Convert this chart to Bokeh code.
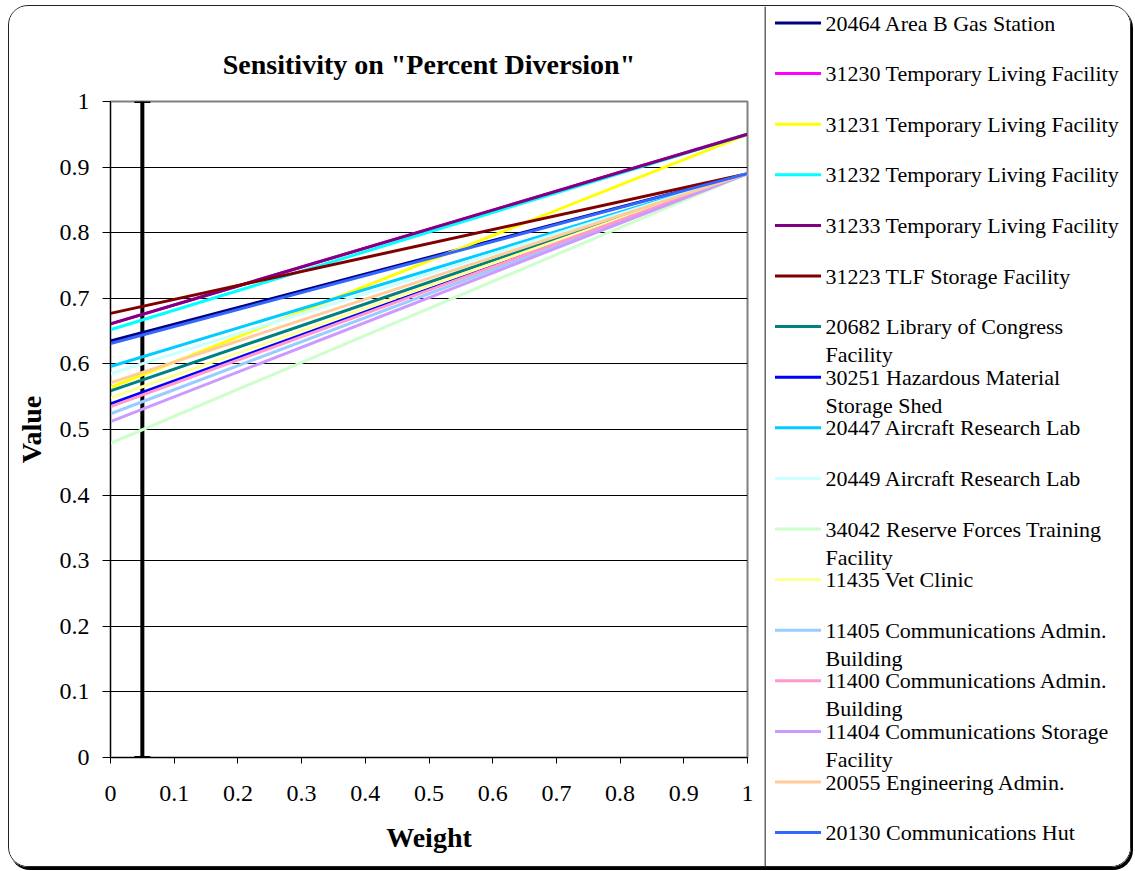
from bokeh.plotting import figure
from bokeh.models import Range1d, FixedTicker, Span, Whisker, TeeHead, ColumnDataSource
from bokeh.layouts import row
from bokeh.embed import file_html
from bokeh.resources import INLINE
from bokeh.core.properties import value

# ---------------- data ----------------
weights = [0, 1]

series_labels = [
    "20464 Area  B Gas  Station",
    "31230 Temporary Living Facility",
    "31231 Temporary Living Facility",
    "31232 Temporary Living Facility",
    "31233 Temporary Living Facility",
    "31223 TLF  Storage Facility",
    "20682 Library of Congress\nFacility",
    "30251 Hazardous Material\nStorage Shed",
    "20447 Aircraft Research Lab",
    "20449 Aircraft Research Lab",
    "34042 Reserve Forces Training\nFacility",
    "11435 Vet Clinic",
    "11405 Communications Admin.\nBuilding",
    "11400 Communications Admin.\nBuilding",
    "11404 Communications Storage\nFacility",
    "20055 Engineering Admin.",
    "20130 Communications Hut",
]
value_at_0 = [0.635, 0.661, 0.564, 0.652, 0.661, 0.677, 0.559, 0.539, 0.596,
              0.585, 0.479, 0.548, 0.524, 0.535, 0.512, 0.571, 0.631]
value_at_1 = [0.89, 0.95, 0.95, 0.95, 0.95, 0.89, 0.89, 0.89, 0.89,
              0.89, 0.89, 0.89, 0.89, 0.89, 0.89, 0.89, 0.89]
series_colors = ["#000080", "#FF00FF", "#FFFF00", "#00FFFF", "#800080", "#800000",
                 "#008080", "#0000FF", "#00CCFF", "#CCFFFF", "#CCFFCC", "#FFFF99",
                 "#99CCFF", "#FF99CC", "#CC99FF", "#FFCC99", "#3366FF"]

marker_weight = [0.05]
marker_low = [0.0]
marker_high = [1.0]

y_ticks = [0, 0.1, 0.2, 0.3, 0.4, 0.5, 0.6, 0.7, 0.8, 0.9, 1]
x_ticks = [0, 0.1, 0.2, 0.3, 0.4, 0.5, 0.6, 0.7, 0.8, 0.9, 1]
tick_labels = ["0", "0.1", "0.2", "0.3", "0.4", "0.5", "0.6", "0.7", "0.8", "0.9", "1"]

FONT = "Liberation Serif"
H = 860

# ---------------- main chart ----------------
p = figure(width=755, height=H, x_range=Range1d(0, 1), y_range=Range1d(0, 1),
           output_backend="svg", toolbar_location=None,
           min_border_left=101, min_border_right=17, min_border_top=95, min_border_bottom=109,
           title='Sensitivity on "Percent Diversion"')
p.frame_align = False
p.title.text_font = FONT
p.title.text_font_size = "28px"
p.title.text_font_style = "bold"
p.title.text_color = "black"
p.title.align = "center"
p.title.standoff = 43

p.outline_line_color = "#808080"
p.outline_line_width = 2
p.xgrid.visible = False
p.ygrid.grid_line_color = "black"
p.ygrid.grid_line_width = 1
p.ygrid.ticker = FixedTicker(ticks=y_ticks)

for ax, ticks in ((p.xaxis[0], x_ticks), (p.yaxis[0], y_ticks)):
    ax.ticker = FixedTicker(ticks=ticks)
    ax.major_label_overrides = {t: s for t, s in zip(ticks, tick_labels)}
    ax.major_label_text_font = FONT
    ax.major_label_text_font_size = "24px"
    ax.major_label_text_color = "black"
    ax.axis_label_text_font = FONT
    ax.axis_label_text_font_size = "28px"
    ax.axis_label_text_font_style = "bold"
    ax.axis_label_text_color = "black"
    ax.axis_line_color = "black"
    ax.major_tick_line_color = "black"
    ax.major_tick_in = 0
    ax.minor_tick_line_color = None

p.xaxis.axis_label = "Weight"
p.yaxis.axis_label = "Value"
p.xaxis.major_tick_out = 6
p.yaxis.major_tick_out = 8
p.xaxis.major_label_standoff = 22
p.yaxis.major_label_standoff = 13
p.xaxis.axis_label_standoff = 18
p.yaxis.axis_label_standoff = 10

for lab, v0, v1, col in zip(series_labels, value_at_0, value_at_1, series_colors):
    p.line(weights, [v0, v1], line_color=col, line_width=3)

src = ColumnDataSource(dict(base=marker_weight, lower=marker_low, upper=marker_high))
wh = Whisker(source=src, base="base", lower="lower", upper="upper", dimension="height",
             line_color="black", line_width=4,
             upper_head=TeeHead(size=16, line_color="black", line_width=3),
             lower_head=TeeHead(size=16, line_color="black", line_width=3))
p.add_layout(wh)

# ---------------- legend panel ----------------
LW = 366
leg = figure(width=LW, height=H, x_range=Range1d(0, LW), y_range=Range1d(H, 0),
             output_backend="svg", toolbar_location=None,
             x_axis_type=None, y_axis_type=None,
             min_border=0, min_border_left=0, min_border_right=0,
             min_border_top=0, min_border_bottom=0)
leg.frame_align = False
leg.outline_line_color = None
leg.xgrid.visible = False
leg.ygrid.visible = False
leg.add_layout(Span(location=0.5, dimension="height", line_color="#666666", line_width=2))

step = 50.6
first = 16.5
xs0, xs1, xt = 10.5, 56.5, 61
txt_x, txt_y, txt_t = [], [], []
seg = dict(x0=[], x1=[], y=[], c=[])
for i, (lab, col) in enumerate(zip(series_labels, series_colors)):
    yc = first + i * step
    seg["x0"].append(xs0); seg["x1"].append(xs1); seg["y"].append(yc); seg["c"].append(col)
    for k, part in enumerate(lab.split("\n")):
        txt_x.append(xt)
        txt_y.append(yc + k * 28)
        txt_t.append(part)

leg.segment(x0="x0", y0="y", x1="x1", y1="y", line_color="c", line_width=3,
            source=ColumnDataSource(seg))
leg.text(x=txt_x, y=txt_y, text=txt_t, text_font=value(FONT),
         text_font_size="22px", text_baseline="middle", text_align="left",
         text_color="black")

layout = row(p, leg, styles={"border": "1.5px solid #222222", "border-radius": "20px",
                             "box-shadow": "2px 3px 0 #000000", "overflow": "hidden",
                             "margin-left": "8px", "margin-top": "5px"})

open("out.html", "w").write(file_html(layout, INLINE))
